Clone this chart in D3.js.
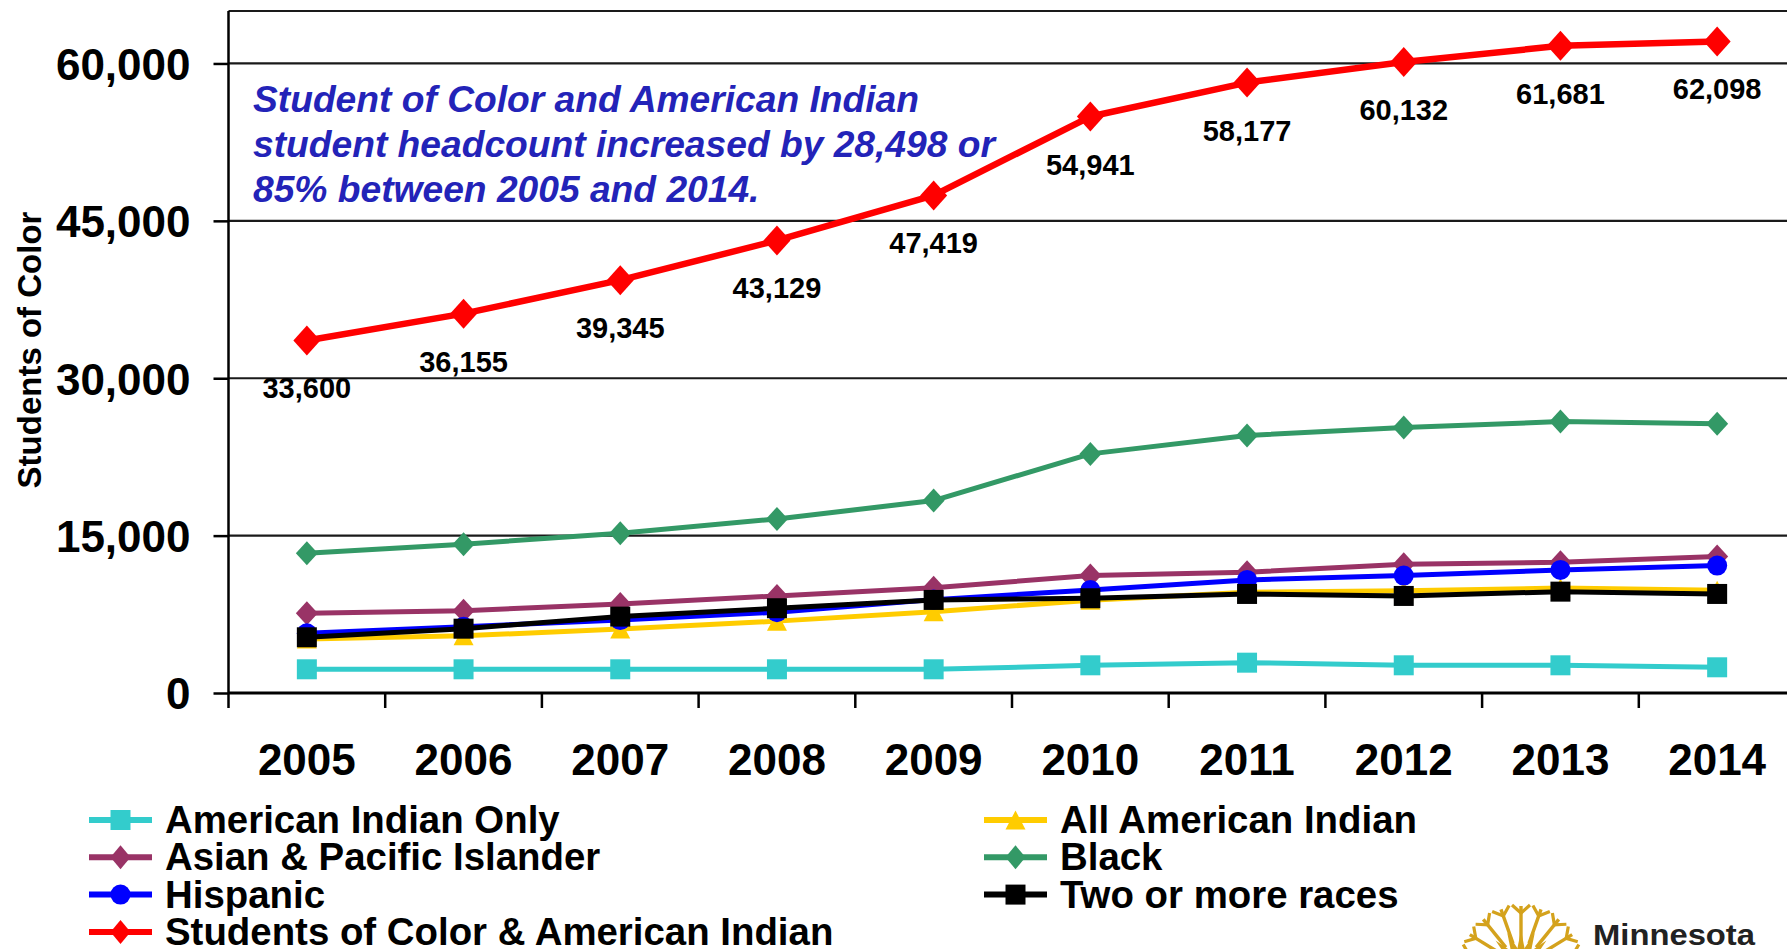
<!DOCTYPE html>
<html>
<head>
<meta charset="utf-8">
<script src="https://cdn.jsdelivr.net/npm/d3@7"></script>
<style>
  html, body { margin: 0; padding: 0; background: #fff; }
  svg { display: block; }
  text { font-family: "Liberation Sans", Arial, sans-serif; }
</style>
</head>
<body>
<svg id="chart" width="1787" height="949"></svg>
<script>
// Headcount by race/ethnicity, fall terms 2005-2014
const years = ["2005", "2006", "2007", "2008", "2009", "2010", "2011", "2012", "2013", "2014"];
const americanIndianOnly = [2260, 2260, 2260, 2260, 2260, 2640, 2890, 2640, 2640, 2450];
const allAmericanIndian  = [5150, 5450, 6100, 6850, 7750, 8850, 9600, 9750, 10000, 9800];
const asianPacific       = [7600, 7850, 8490, 9250, 10040, 11190, 11510, 12270, 12460, 13000];
const blackStudents      = [13320, 14180, 15230, 16590, 18340, 22790, 24540, 25300, 25870, 25650];
const hispanic           = [5690, 6320, 6950, 7700, 8900, 9820, 10780, 11190, 11730, 12140];
const twoOrMore          = [5310, 6130, 7280, 8080, 8870, 9030, 9440, 9250, 9660, 9440];
const studentsOfColor    = [33600, 36155, 39345, 43129, 47419, 54941, 58177, 60132, 61681, 62098];

const yTicks = [0, 15000, 30000, 45000, 60000];
const yMax = 65000;
const yTitle = "Students of Color";
const noteLines = [
  "Student of Color and American Indian",
  "student headcount increased by 28,498 or",
  "85% between 2005 and 2014."
];

const series = [
  { name: "American Indian Only", values: americanIndianOnly, color: "#33CCCC", shape: "square", w: 20, h: 20, lw: 5 },
  { name: "All American Indian", values: allAmericanIndian, color: "#FFCC00", shape: "triangle", w: 20, h: 19, lw: 5 },
  { name: "Asian & Pacific Islander", values: asianPacific, color: "#993366", shape: "diamond", w: 22, h: 24, lw: 5 },
  { name: "Black", values: blackStudents, color: "#339966", shape: "diamond", w: 22, h: 24, lw: 5 },
  { name: "Hispanic", values: hispanic, color: "#0000FF", shape: "circle", w: 20, h: 20, lw: 5 },
  { name: "Two or more races", values: twoOrMore, color: "#000000", shape: "square", w: 20, h: 20, lw: 5 },
  { name: "Students of Color & American Indian", values: studentsOfColor, color: "#FF0000", shape: "diamond", w: 27, h: 30, lw: 6.5, labels: true }
];

const svg = d3.select("#chart");
const W = 1787, H = 949;
const plot = { left: 228.5, right: 1795.5, top: 11, bottom: 693 };

svg.append("rect").attr("width", W).attr("height", H).attr("fill", "#fff");

const x = d3.scaleBand().domain(years).range([plot.left, plot.right]).padding(0);
const cx = d => x(d) + x.bandwidth() / 2;
const y = d3.scaleLinear().domain([0, yMax]).range([plot.bottom, plot.top]);

// horizontal gridlines and top frame
const grid = svg.append("g");
grid.selectAll("line.grid")
  .data(yTicks.filter(v => v > 0).concat([yMax]))
  .join("line")
  .attr("x1", plot.left).attr("x2", W)
  .attr("y1", d => y(d)).attr("y2", d => y(d))
  .attr("stroke", "#1a1a1a").attr("stroke-width", 2.2);

// y axis
const yAxis = d3.axisLeft(y).tickValues(yTicks).tickSize(15).tickPadding(23)
  .tickFormat(d3.format(","));
const gy = svg.append("g").attr("transform", `translate(${plot.left},0)`).call(yAxis);
gy.select(".domain").remove();
gy.selectAll(".tick line").attr("stroke", "#000").attr("stroke-width", 2.5);
gy.selectAll(".tick text")
  .attr("font-family", "'Liberation Sans', Arial, sans-serif")
  .attr("font-size", 44).attr("font-weight", "bold").attr("fill", "#000")
  .attr("dy", "0.36em");
svg.append("line")
  .attr("x1", plot.left).attr("x2", plot.left)
  .attr("y1", plot.top).attr("y2", plot.bottom + 15)
  .attr("stroke", "#000").attr("stroke-width", 2.5);

// x axis: ticks at category boundaries, labels centred in each band
svg.append("line")
  .attr("x1", plot.left).attr("x2", W)
  .attr("y1", plot.bottom).attr("y2", plot.bottom)
  .attr("stroke", "#000").attr("stroke-width", 2.8);
svg.append("g").selectAll("line")
  .data(years.slice(1))
  .join("line")
  .attr("x1", d => x(d)).attr("x2", d => x(d))
  .attr("y1", plot.bottom).attr("y2", plot.bottom + 15)
  .attr("stroke", "#000").attr("stroke-width", 2.5);
svg.append("g").selectAll("text")
  .data(years)
  .join("text")
  .attr("x", d => cx(d)).attr("y", 775)
  .attr("text-anchor", "middle")
  .attr("font-size", 44).attr("font-weight", "bold").attr("fill", "#000")
  .text(d => d);

// y axis title
svg.append("text")
  .attr("transform", "translate(41,350) rotate(-90)")
  .attr("text-anchor", "middle")
  .attr("font-size", 33).attr("font-weight", "bold").attr("fill", "#000")
  .text(yTitle);

// marker drawing
function marker(sel, s) {
  const w = s.w, h = s.h;
  let path;
  if (s.shape === "square") {
    path = `M${-w/2},${-h/2}H${w/2}V${h/2}H${-w/2}Z`;
  } else if (s.shape === "diamond") {
    path = `M0,${-h/2}L${w/2},0L0,${h/2}L${-w/2},0Z`;
  } else if (s.shape === "triangle") {
    path = `M0,${-h/2}L${w/2},${h/2}L${-w/2},${h/2}Z`;
  } else {
    path = d3.symbol(d3.symbolCircle, Math.PI * (w / 2) * (w / 2))();
  }
  sel.append("path").attr("d", path).attr("fill", s.color);
}

// series lines and markers
const line = d3.line().x((d, i) => cx(years[i])).y(d => y(d));
series.forEach(s => {
  const g = svg.append("g");
  g.append("path")
    .attr("d", line(s.values))
    .attr("fill", "none")
    .attr("stroke", s.color)
    .attr("stroke-width", s.lw)
    .attr("stroke-linejoin", "round");
  s.values.forEach((v, i) => {
    const m = g.append("g").attr("transform", `translate(${cx(years[i])},${y(v)})`);
    marker(m, s);
  });
  if (s.labels) {
    g.selectAll("text.val")
      .data(s.values)
      .join("text")
      .attr("x", (d, i) => cx(years[i]))
      .attr("y", d => y(d) + 58)
      .attr("text-anchor", "middle")
      .attr("font-size", 29).attr("font-weight", "bold").attr("fill", "#000")
      .text(d => d3.format(",")(d));
  }
});

// annotation
svg.append("g").selectAll("text")
  .data(noteLines)
  .join("text")
  .attr("x", 253)
  .attr("y", (d, i) => 112 + i * 45)
  .attr("font-size", 37.2).attr("font-weight", "bold").attr("font-style", "italic")
  .attr("fill", "#2323B8")
  .text(d => d);

// legend: two columns, filled row by row
const legend = svg.append("g");
series.forEach((s, i) => {
  const col = i % 2, row = Math.floor(i / 2);
  const lx = col === 0 ? 89 : 984;
  const ly = 820 + row * 37.3;
  const item = legend.append("g");
  item.append("line")
    .attr("x1", lx).attr("x2", lx + 63)
    .attr("y1", ly).attr("y2", ly)
    .attr("stroke", s.color).attr("stroke-width", 6);
  const m = item.append("g").attr("transform", `translate(${lx + 31.5},${ly})`);
  marker(m, Object.assign({}, s, { w: Math.min(s.w, 20), h: Math.min(s.h, 24) }));
  item.append("text")
    .attr("x", lx + 76).attr("y", ly + 13)
    .attr("font-size", 38.4).attr("font-weight", "bold").attr("fill", "#000")
    .text(s.name);
});

// Minnesota mark: golden sunburst and wordmark
const gold = "#D4A21C";
const logo = svg.append("g").attr("transform", "translate(1521,966)");
// inner spiky star
d3.range(-180, 1, 22.5).forEach(a => {
  const rad = a * Math.PI / 180;
  const ux = Math.cos(rad), uy = Math.sin(rad), px = -uy, py = ux;
  logo.append("path")
    .attr("d", `M${px * 7},${py * 7}L${ux * 36},${uy * 36}L${-px * 7},${-py * 7}Z`)
    .attr("fill", gold);
});
// long rays with chevron tips
d3.range(-168, -10, 19.5).forEach(a => {
  const rad = a * Math.PI / 180;
  const ux = Math.cos(rad), uy = Math.sin(rad), px = -uy, py = ux;
  const r0 = 24, r1 = 60;
  logo.append("line")
    .attr("x1", ux * r0).attr("y1", uy * r0)
    .attr("x2", ux * r1).attr("y2", uy * r1)
    .attr("stroke", gold).attr("stroke-width", 3.4);
  const bx = ux * (r1 - 2), by = uy * (r1 - 2);
  logo.append("path")
    .attr("d", `M${bx + px * 9 + ux * 3},${by + py * 9 + uy * 3}L${bx - ux * 5},${by - uy * 5}L${bx - px * 9 + ux * 3},${by - py * 9 + uy * 3}`)
    .attr("fill", "none").attr("stroke", gold).attr("stroke-width", 3.2)
    .attr("stroke-linejoin", "miter");
});
svg.append("text")
  .attr("x", 1593).attr("y", 945)
  .attr("textLength", 162).attr("lengthAdjust", "spacingAndGlyphs")
  .attr("font-family", "'Liberation Serif', 'DejaVu Serif', serif")
  .attr("font-size", 30).attr("font-weight", "bold").attr("fill", "#222")
  .text("Minnesota");
</script>
</body>
</html>
